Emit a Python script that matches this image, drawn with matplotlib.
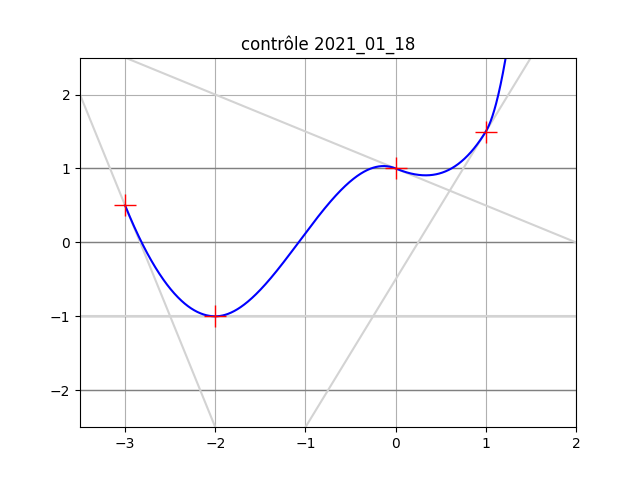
import numpy as np
import matplotlib
matplotlib.use('Agg')
import matplotlib.pyplot as plt

# points imposés et pentes des tangentes
px = [-3, -2, 0, 1]
py = [0.5, -1, 1, 1.5]
pente = [-3, 0, -0.5, 2]
horiz = [-2, -1, 0, 1]
# noeud hors cadre pour prolonger la courbe après x=1
nx = px + [2]
ny = py + [15]
nd = pente + [25]


# interpolation cubique d'Hermite par morceaux
def hermite(x):
    y = np.zeros_like(x)
    for i in range(len(nx) - 1):
        x0, x1 = nx[i], nx[i + 1]
        h = x1 - x0
        m = (x >= x0) & (x <= x1)
        t = (x[m] - x0) / h
        h00 = 2 * t**3 - 3 * t**2 + 1
        h10 = t**3 - 2 * t**2 + t
        h01 = -2 * t**3 + 3 * t**2
        h11 = t**3 - t**2
        y[m] = h00 * ny[i] + h10 * h * nd[i] + h01 * ny[i + 1] + h11 * h * nd[i + 1]
    return y


x = np.linspace(-3, 2, 1000)
y = hermite(x)

fig, ax = plt.subplots()
for hh in horiz:
    ax.axhline(hh, color='gray', lw=1)
xt = np.array([-3.5, 2])
for xi, yi, di in zip(px, py, pente):
    ax.plot(xt, yi + di * (xt - xi), color='lightgray', lw=1.5)
ax.plot(x, y, color='blue', lw=1.5)
ax.plot(px, py, '+', color='red', ms=16)
ax.set_xlim(-3.5, 2)
ax.set_ylim(-2.5, 2.5)
ax.grid(True)
ax.set_title('contrôle 2021_01_18')
plt.savefig('out.png')
